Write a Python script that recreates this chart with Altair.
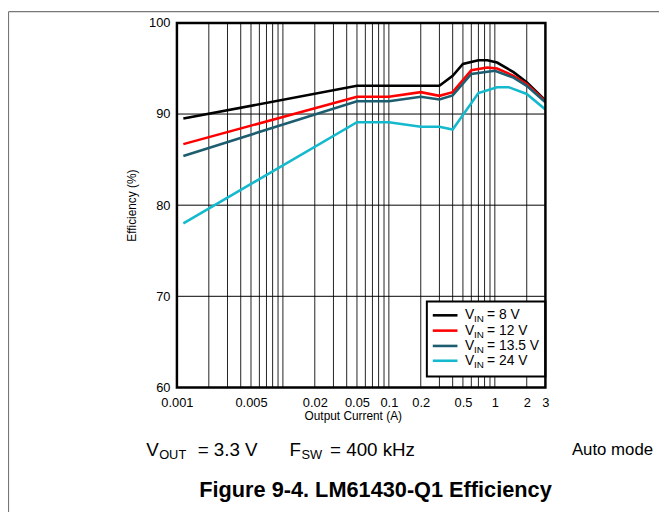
import altair as alt
import pandas as pd

# ---- data ----
x_black = [0.00115, 0.05, 0.3, 0.4, 0.5, 0.7, 0.85, 1.05, 1.5, 2.0, 3.0]
y_black = [89.5, 93.1, 93.1, 94.2, 95.5, 95.9, 95.9, 95.65, 94.6, 93.5, 91.5]

x_red = [0.00115, 0.05, 0.1, 0.2, 0.3, 0.4, 0.6, 0.85, 1.05, 1.5, 2.0, 3.0]
y_red = [86.7, 91.9, 91.9, 92.4, 92.0, 92.4, 94.8, 95.1, 95.0, 94.2, 93.3, 91.4]

x_teal = [0.00115, 0.05, 0.1, 0.2, 0.3, 0.4, 0.6, 1.0, 1.5, 2.0, 3.0]
y_teal = [85.4, 91.4, 91.4, 91.9, 91.6, 92.05, 94.4, 94.75, 94.0, 93.1, 91.3]

x_cyan = [0.00115, 0.05, 0.1, 0.2, 0.3, 0.4, 0.7, 1.05, 1.35, 2.0, 3.0]
y_cyan = [78.0, 89.1, 89.1, 88.6, 88.6, 88.3, 92.3, 92.95, 92.95, 92.2, 90.5]

series_names = ["8 V", "12 V", "13.5 V", "24 V"]
series_colors = ["#000000", "#ff0000", "#1d5d70", "#14b9cd"]

x_tick_labels = [0.001, 0.005, 0.02, 0.05, 0.1, 0.2, 0.5, 1, 2, 3]
y_tick_labels = [60, 70, 80, 90, 100]
x_grid = [m * d for d in [0.001, 0.01, 0.1] for m in range(2, 10)] + [0.01, 0.1, 1, 2]
y_grid = [70, 80, 90]

rows = []
for name, xs, ys in zip(series_names, [x_black, x_red, x_teal, x_cyan],
                        [y_black, y_red, y_teal, y_cyan]):
    for xv, yv in zip(xs, ys):
        rows.append({"series": name, "I": xv, "eff": yv})
df = pd.DataFrame(rows)

W, H = 373, 369
FONT = "Liberation Sans"

xscale = alt.Scale(type="log", domain=[0.001, 3], nice=False)
yscale = alt.Scale(domain=[60, 100], nice=False)

x_axis = alt.Axis(values=x_tick_labels, format="~g", grid=False,
                  ticks=False, domain=False, labelFontSize=13,
                  labelPadding=9, labelColor="#000000",
                  labelFont=FONT, labelFlush=False, labelOverlap=False,
                  title="Output Current (A)", titleFontSize=12,
                  titleFontWeight="normal", titleFont=FONT,
                  titlePadding=1, titleX=178, titleColor="#000000")
y_axis = alt.Axis(values=y_tick_labels, grid=False, ticks=False,
                  domain=False, labelFontSize=13, labelPadding=7,
                  labelColor="#000000", labelFont=FONT,
                  title="Efficiency (%)", titleFontSize=12,
                  titleFontWeight="normal", titleFont=FONT,
                  titlePadding=10, titleColor="#000000")

grid_v = alt.Chart(pd.DataFrame({"g": x_grid})).mark_rule(
    color="#222222", strokeWidth=1
).encode(x=alt.X("g:Q", scale=xscale, axis=x_axis))

grid_h = alt.Chart(pd.DataFrame({"g": y_grid})).mark_rule(
    color="#000000", strokeWidth=1
).encode(y=alt.Y("g:Q", scale=yscale, axis=y_axis))

lines = alt.Chart(df).mark_line(strokeWidth=2.6, clip=True).encode(
    x=alt.X("I:Q", scale=xscale, axis=x_axis),
    y=alt.Y("eff:Q", scale=yscale, axis=y_axis),
    color=alt.Color("series:N", scale=alt.Scale(domain=series_names,
                                                range=series_colors),
                    legend=None),
    detail="series:N",
)

one = pd.DataFrame({"a": [0]})
border = alt.Chart(one).mark_rect(
    fill=None, filled=False, stroke="black", strokeWidth=2.5
).encode(x=alt.value(0), x2=alt.value(W), y=alt.value(0), y2=alt.value(H))

layers = [grid_v, grid_h, lines]

# legend box
legend_box = alt.Chart(one).mark_rect(
    fill="white", stroke="black", strokeWidth=2
).encode(x=alt.value(253), x2=alt.value(373), y=alt.value(282), y2=alt.value(358))
layers.append(legend_box)
layers.append(border)

row_y = [296, 311.5, 327, 342]
for name, col, yy in zip(series_names, series_colors, row_y):
    d = pd.DataFrame({"t": ["= " + name]})
    layers.append(alt.Chart(d).mark_rule(color=col, strokeWidth=2.6).encode(
        x=alt.value(259), x2=alt.value(284), y=alt.value(yy)))
    layers.append(alt.Chart(d).mark_text(
        text="V", align="left", baseline="middle", fontSize=14, font=FONT,
        color="black").encode(x=alt.value(291.5), y=alt.value(yy)))
    layers.append(alt.Chart(d).mark_text(
        text="IN", align="left", baseline="middle", fontSize=10, font=FONT,
        color="black").encode(x=alt.value(300.8), y=alt.value(yy + 4)))
    layers.append(alt.Chart(d).mark_text(
        align="left", baseline="middle", fontSize=14, font=FONT,
        color="black").encode(text="t:N", x=alt.value(314), y=alt.value(yy)))

# annotations below the plot
ann = [
    ("V", -31, 0, 19), ("OUT", -18, 5, 13), ("= 3.3 V", 21, 0, 19),
    ("F", 114, 0, 19), ("SW", 126, 5, 13), ("= 400 kHz", 155, 0, 19),
]
ay = 432
for txt, xx, dy, fs in ann:
    layers.append(alt.Chart(one).mark_text(
        text=txt, align="left", baseline="middle", fontSize=fs, font=FONT,
        color="black").encode(x=alt.value(xx), y=alt.value(ay + dy)))
layers.append(alt.Chart(one).mark_text(
    text="Auto mode", align="right", baseline="middle", fontSize=17, font=FONT,
    color="black").encode(x=alt.value(482), y=alt.value(ay)))
layers.append(alt.Chart(one).mark_text(
    text="Figure 9-4. LM61430-Q1 Efficiency", align="center", baseline="middle",
    fontSize=22, fontWeight="bold", font=FONT, color="black"
).encode(x=alt.value(201), y=alt.value(473)))

# figure frame (top and left edges)
layers.append(alt.Chart(one).mark_rule(
    color="#777777", strokeWidth=1.2).encode(
    x=alt.value(-170.5), x2=alt.value(500), y=alt.value(-11.4)))
layers.append(alt.Chart(one).mark_rule(
    color="#777777", strokeWidth=1.2).encode(
    x=alt.value(-170.5), y=alt.value(-11.4), y2=alt.value(500)))

chart = alt.layer(*layers).properties(
    width=W, height=H,
    autosize=alt.AutoSizeParams(type="none"),
    padding={"left": 171, "top": 12, "right": 115, "bottom": 123},
).configure_view(stroke=None).configure(font=FONT)

chart.save("out.html", embed_options={"renderer": "svg", "actions": False})
